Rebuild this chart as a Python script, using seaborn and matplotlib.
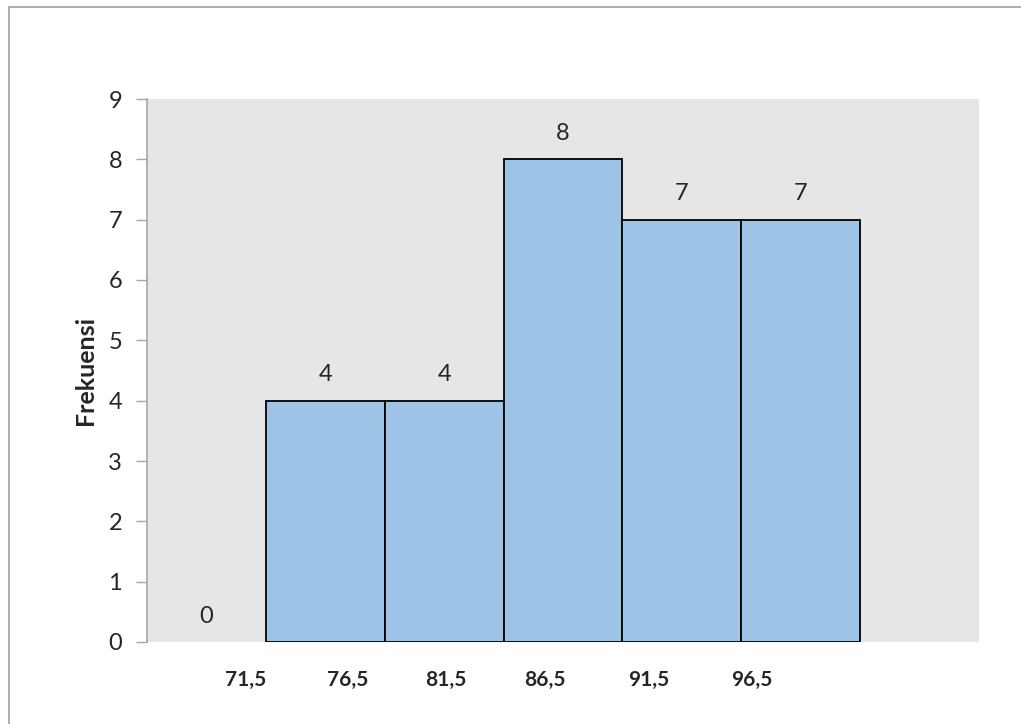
import matplotlib
matplotlib.use("Agg")
import matplotlib.pyplot as plt
import seaborn as sns
import pandas as pd
from matplotlib.patches import Rectangle

# Data
categories = ["71,5", "76,5", "81,5", "86,5", "91,5", "96,5"]
frequencies = [0, 4, 4, 8, 7, 7]
y_ticks = [0, 1, 2, 3, 4, 5, 6, 7, 8, 9]

# Layout (label placement, in slot units)
label_pos = [0.33, 1.19, 2.01, 2.85, 3.72, 4.59]

sns.set_theme(style="white")
plt.rcParams['font.family'] = ['Lato', 'DejaVu Sans']

fig = plt.figure(figsize=(10.21, 7.24), dpi=100)
ax = fig.add_axes([147/1021, 1-642/724, (979-147)/1021, (642-99)/724])
ax.set_facecolor("#e6e6e6")

df = pd.DataFrame({"slot": list(range(len(frequencies))), "freq": frequencies})
sns.barplot(data=df, x="slot", y="freq", native_scale=True, width=1.0,
            color="#9dc3e6", saturation=1, edgecolor="black", linewidth=1.3, ax=ax)
for p, v in zip(ax.patches, frequencies):
    if v == 0:
        p.set_linewidth(0)

ax.set_xlim(-0.5, 6.5)
ax.set_ylim(0, 9)
ax.set_yticks(y_ticks)
ax.set_yticklabels([str(t) for t in y_ticks], fontsize=17)
ax.tick_params(axis="y", length=8, width=1, color="#a6a6a6", pad=10, left=True, direction="out")
ax.set_xticks(label_pos)
ax.set_xticklabels(categories, fontsize=15, fontweight="bold")
ax.tick_params(axis="x", length=0, pad=20)
ax.set_xlabel("")
ax.set_ylabel("Frekuensi", fontsize=18, fontweight="bold", labelpad=8)

for s in ["top", "right", "bottom"]:
    ax.spines[s].set_visible(False)
ax.spines["left"].set_color("#a6a6a6")
ax.spines["left"].set_linewidth(1.2)

for i, v in enumerate(frequencies):
    ax.annotate(str(v), (i, v), xytext=(0, 11), textcoords="offset points",
                ha="center", va="bottom", fontsize=17)

# figure border
fig.patches.append(Rectangle((9/1021, -0.1), 1.2, 1 - 7/724 + 0.1, transform=fig.transFigure,
                             fill=False, edgecolor="#a0a0a0", linewidth=1.2, zorder=-1))

fig.savefig("out.png", dpi=100)
